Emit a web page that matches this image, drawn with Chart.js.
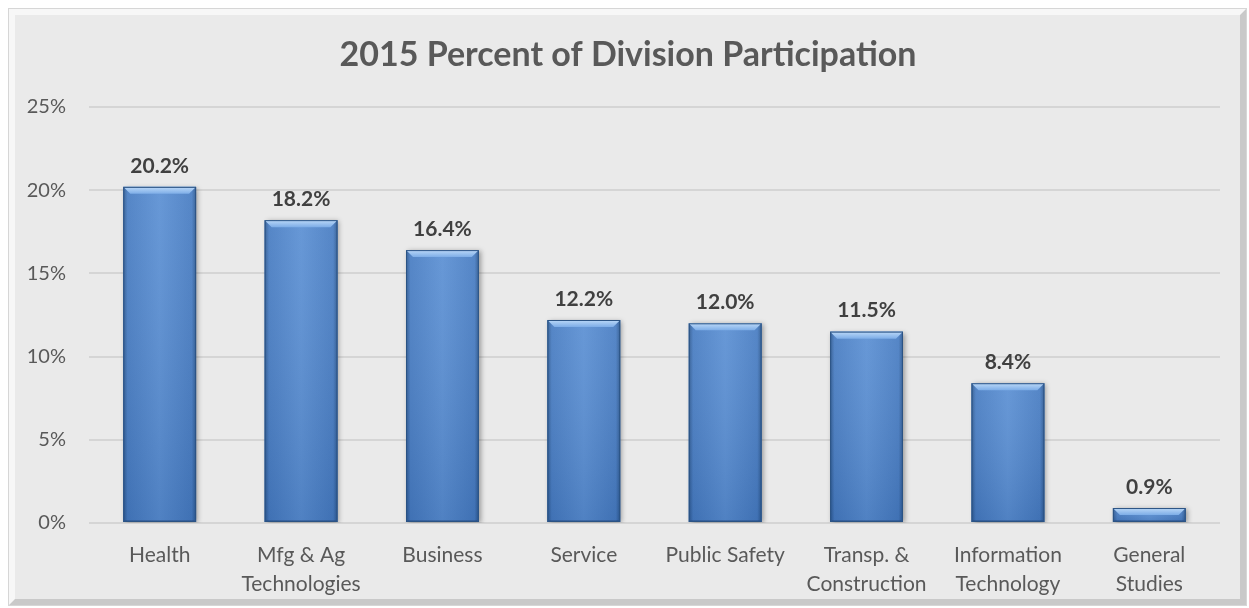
<!DOCTYPE html>
<html>
<head>
<meta charset="utf-8">
<script src="https://cdn.jsdelivr.net/npm/chart.js@4.4.1/dist/chart.umd.min.js"></script>
<style>
html,body{margin:0;padding:0;background:#fff;}
#wrap{position:absolute;left:0;top:0;width:1249px;height:608px;}
</style>
</head>
<body>
<div id="wrap"><canvas id="c" width="1249" height="608"></canvas></div>
<script>
const titleText = "2015 Percent of Division Participation";
const categories = [
  "Health",
  ["Mfg & Ag", "Technologies"],
  "Business",
  "Service",
  "Public Safety",
  ["Transp. &", "Construction"],
  ["Information", "Technology"],
  ["General", "Studies"]
];
const participation = [20.2, 18.2, 16.4, 12.2, 12.0, 11.5, 8.4, 0.9];
const yTicks = [0, 5, 10, 15, 20, 25];

const FONT = "Lato, 'Open Sans', sans-serif";

const framePlugin = {
  id: 'frame',
  beforeDraw(chart) {
    const ctx = chart.ctx;
    ctx.save();
    ctx.fillStyle = '#ffffff';
    ctx.fillRect(0, 0, chart.width, chart.height);
    const x0 = 8, y0 = 8, x1 = 1247, y1 = 606;
    ctx.fillStyle = '#d6d6d6';
    ctx.fillRect(x0, y0, x1 - x0, y1 - y0);
    ctx.fillStyle = '#f7f7f7';
    ctx.fillRect(x0 + 1, y0 + 1, x1 - x0 - 2, y1 - y0 - 2);
    ctx.fillStyle = '#c9c9c9';
    ctx.beginPath();
    ctx.moveTo(x1 - 1, y0 + 1);
    ctx.lineTo(x1 - 1, y1 - 1);
    ctx.lineTo(x0 + 1, y1 - 1);
    ctx.lineTo(x0 + 7, y1 - 7);
    ctx.lineTo(x1 - 7, y1 - 7);
    ctx.lineTo(x1 - 7, y0 + 7);
    ctx.closePath();
    ctx.fill();
    ctx.fillStyle = '#eaeaea';
    ctx.fillRect(x0 + 7, y0 + 7, x1 - x0 - 14, y1 - y0 - 14);
    ctx.fillStyle = '#595959';
    ctx.font = "bold 34px " + FONT;
    ctx.textAlign = 'center';
    ctx.textBaseline = 'middle';
    ctx.fillText(titleText, 628, 55);
    ctx.restore();
  }
};

const barStyle = {
  id: 'barStyle',
  beforeDatasetsDraw(chart) {
    const ctx = chart.ctx;
    ctx.save();
    ctx.shadowColor = 'rgba(0,0,0,0.35)';
    ctx.shadowBlur = 5;
    ctx.shadowOffsetX = 2;
    ctx.shadowOffsetY = 1;
  },
  afterDatasetsDraw(chart) {
    const ctx = chart.ctx;
    ctx.restore();
    const meta = chart.getDatasetMeta(0);
    meta.data.forEach((bar, i) => {
      const p = bar.getProps(['x', 'y', 'base', 'width'], true);
      const left = p.x - p.width / 2, right = p.x + p.width / 2;
      const top = p.y, bottom = p.base;
      const h = bottom - top;
      ctx.save();
      const g = ctx.createLinearGradient(left, 0, right, 0);
      g.addColorStop(0, '#2c5890');
      g.addColorStop(0.06, '#477cc2');
      g.addColorStop(0.5, '#5a8fd3');
      g.addColorStop(0.94, '#477cc2');
      g.addColorStop(1, '#2c5890');
      ctx.fillStyle = g;
      ctx.fillRect(left, top, p.width, h);
      const gv = ctx.createLinearGradient(0, top, 0, bottom);
      gv.addColorStop(0, 'rgba(255,255,255,0.08)');
      gv.addColorStop(1, 'rgba(20,50,100,0.15)');
      ctx.fillStyle = gv;
      ctx.fillRect(left, top, p.width, h);
      const b = Math.min(7, h / 2);
      const gt = ctx.createLinearGradient(0, top, 0, top + b);
      gt.addColorStop(0, '#bcd9f8');
      gt.addColorStop(1, '#7dade7');
      ctx.fillStyle = gt;
      ctx.beginPath();
      ctx.moveTo(left, top);
      ctx.lineTo(right, top);
      ctx.lineTo(right - b, top + b);
      ctx.lineTo(left + b, top + b);
      ctx.closePath();
      ctx.fill();
      ctx.fillStyle = 'rgba(30,60,110,0.35)';
      ctx.beginPath();
      ctx.moveTo(left, bottom);
      ctx.lineTo(right, bottom);
      ctx.lineTo(right - 2, bottom - 2);
      ctx.lineTo(left + 2, bottom - 2);
      ctx.closePath();
      ctx.fill();
      ctx.strokeStyle = '#2b5384';
      ctx.lineWidth = 1;
      ctx.strokeRect(left + 0.5, top + 0.5, p.width - 1, h - 1);
      ctx.fillStyle = '#404040';
      ctx.font = "bold 21px " + FONT;
      ctx.textAlign = 'center';
      ctx.textBaseline = 'middle';
      ctx.fillText(participation[i].toFixed(1) + '%', p.x, top - 21);
      ctx.restore();
    });
  }
};

new Chart(document.getElementById('c'), {
  type: 'bar',
  data: {
    labels: categories,
    datasets: [{
      data: participation,
      backgroundColor: '#4f84c8',
      borderWidth: 0,
      categoryPercentage: 1,
      barPercentage: 0.515
    }]
  },
  options: {
    responsive: false,
    animation: false,
    events: [],
    layout: { padding: { left: 8, right: 29, top: 107, bottom: 0 } },
    plugins: { legend: { display: false }, tooltip: { enabled: false }, title: { display: false } },
    scales: {
      x: {
        grid: { display: false, drawTicks: false },
        border: { display: false },
        ticks: {
          color: '#595959',
          font: { family: FONT, size: 21, lineHeight: 1.38 },
          padding: 18,
          maxRotation: 0,
          autoSkip: false
        },
        afterFit(scale) { scale.height = 85; }
      },
      y: {
        min: 0, max: 25,
        afterBuildTicks(scale) { scale.ticks = yTicks.map(v => ({ value: v })); },
        grid: { color: '#d5d5d5', lineWidth: 2, drawTicks: false },
        border: { display: false },
        ticks: {
          color: '#595959',
          font: { family: FONT, size: 20 },
          padding: 23,
          callback: v => v + '%'
        },
        afterFit(scale) { scale.width = 81; }
      }
    }
  },
  plugins: [framePlugin, barStyle]
});
</script>
</body>
</html>
